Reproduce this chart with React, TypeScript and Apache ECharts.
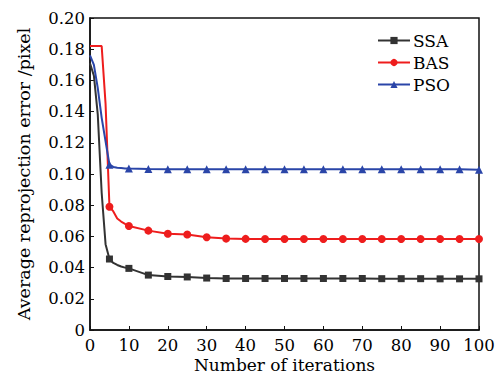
import React, { useEffect, useRef } from "react";
import * as echarts from "echarts";

const iterations = [0, 1, 2, 3, 4, 5, 6, 7, 8, 9, 10, 15, 20, 25, 30, 35, 40, 45, 50, 55, 60, 65, 70, 75, 80, 85, 90, 95, 100];
const ssa = [0.171, 0.163, 0.138, 0.088, 0.055, 0.0455, 0.043, 0.0417, 0.0407, 0.04, 0.0395, 0.0352, 0.0343, 0.034, 0.0333, 0.033, 0.033, 0.033, 0.033, 0.033, 0.033, 0.033, 0.033, 0.0329, 0.0329, 0.0329, 0.0328, 0.0328, 0.0328];
const bas = [0.182, 0.182, 0.182, 0.182, 0.145, 0.079, 0.076, 0.0715, 0.0695, 0.068, 0.0667, 0.0637, 0.0617, 0.0612, 0.0595, 0.0586, 0.0584, 0.0583, 0.0583, 0.0583, 0.0583, 0.0583, 0.0583, 0.0583, 0.0583, 0.0583, 0.0583, 0.0583, 0.0583];
const pso = [0.176, 0.17, 0.155, 0.136, 0.121, 0.106, 0.1045, 0.104, 0.1038, 0.1036, 0.1035, 0.1032, 0.103, 0.103, 0.103, 0.103, 0.103, 0.103, 0.103, 0.103, 0.103, 0.103, 0.103, 0.103, 0.103, 0.103, 0.103, 0.103, 0.1028];

const seriesNames = ["SSA", "BAS", "PSO"];
const seriesColors = ["#333333", "#ee1d1d", "#2a45a8"];
const seriesSymbols = ["rect", "circle", "triangle"];
const seriesValues = [ssa, bas, pso];

const FONT = "DejaVu Serif";

export default function App() {
  const ref = useRef<HTMLDivElement>(null);
  useEffect(() => {
    if (!ref.current) return;
    const chart = echarts.init(ref.current, undefined, { renderer: "svg" });
    const series = seriesNames.map((name, si) => ({
      name,
      type: "line",
      color: seriesColors[si],
      symbol: seriesSymbols[si],
      symbolSize: si === 0 ? 7 : 8,
      lineStyle: { width: 2, color: seriesColors[si] },
      itemStyle: { color: seriesColors[si] },
      data: iterations.map((x, i) => {
        const show = x > 0 && x % 5 === 0;
        return show
          ? { value: [x, seriesValues[si][i]] }
          : { value: [x, seriesValues[si][i]], symbol: "none" };
      }),
    }));
    chart.setOption({
      animation: false,
      backgroundColor: "#ffffff",
      grid: {
        left: 90,
        right: 21,
        top: 18,
        bottom: 44,
        show: true,
        borderColor: "#111",
        borderWidth: 1.5,
        outerBoundsMode: "none",
        containLabel: false,
      },
      legend: {
        orient: "vertical",
        left: 372,
        top: 27,
        itemWidth: 32,
        itemHeight: 9,
        itemGap: 5,
        data: seriesNames,
        textStyle: { fontFamily: FONT, fontSize: 17, color: "#000", padding: [0, 0, 0, -2] },
      },
      xAxis: {
        type: "value",
        min: 0,
        max: 100,
        interval: 10,
        name: "Number of iterations",
        nameLocation: "middle",
        nameGap: 27,
        nameMoveOverlap: false,
        nameTextStyle: { fontFamily: FONT, fontSize: 17, color: "#000", lineHeight: 16 },
        axisLine: { lineStyle: { color: "#111", width: 1.5 } },
        axisTick: { inside: true, length: 4, lineStyle: { color: "#111" } },
        axisLabel: { fontFamily: FONT, fontSize: 16.5, color: "#000", margin: 7, lineHeight: 16 },
        splitLine: { show: false },
      },
      yAxis: {
        type: "value",
        min: 0,
        max: 0.2,
        interval: 0.02,
        name: "Average reprojection error /pixel",
        nameLocation: "middle",
        nameGap: 57,
        nameMoveOverlap: false,
        nameTextStyle: { fontFamily: FONT, fontSize: 17.5, color: "#000" },
        axisLine: { show: true, lineStyle: { color: "#111", width: 1.5 } },
        axisTick: { show: true, inside: true, length: 4, lineStyle: { color: "#111" } },
        axisLabel: {
          fontFamily: FONT,
          fontSize: 16.5,
          color: "#000",
          margin: 5,
          formatter: (v: number) => (v === 0 ? "0" : v.toFixed(2)),
        },
        splitLine: { show: false },
      },
      series,
    });
    return () => chart.dispose();
  }, []);
  return <div ref={ref} style={{ width: 500, height: 374, position: "absolute", left: 0, top: 0 }} />;
}
